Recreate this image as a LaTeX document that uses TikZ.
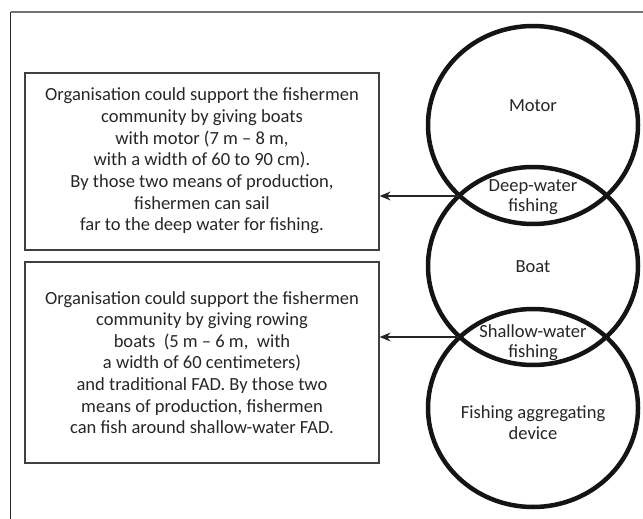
\documentclass[tikz,border=0pt]{standalone}
\usepackage{fontspec}
\setmainfont{Carlito}
\usetikzlibrary{shapes.geometric,arrows.meta}
\begin{document}
\begin{tikzpicture}[x=1bp,y=-1bp,
  textbox/.style={draw=black!75, line width=1.3bp, minimum width=354bp, inner sep=0pt, align=center, text=black!85, font=\fontsize{18.6}{21.7}\selectfont},
  ring/.style={draw=black!92, line width=4.5bp, ellipse, minimum width=210bp, minimum height=198bp, inner sep=0pt},
  lbl/.style={align=center, text=black!85, font=\fontsize{18.6}{20.5}\selectfont, inner sep=0pt},
  conn/.style={draw=black!85, line width=1.2bp, -{Stealth[length=11bp,width=9bp]}},
  frameline/.style={line width=1.2bp}]
\useasboundingbox (0,0) rectangle (643,519);
\draw[frameline, draw=black!55] (10.5,12) -- (643,12);
\draw[frameline, draw=black!85] (10.5,12) -- (10.5,519);

\node[ring] (motor) at (533,125) {};
\node[ring] (boat) at (533,266) {};
\node[ring] (fad) at (533,408) {};

\node[lbl] (lmotor) at (533,106) {Motor};
\node[lbl] (lboat) at (533,267) {Boat};
\node[lbl] (ldeep) at (533,197) {Deep-water\\fishing};
\node[lbl] (lshallow) at (533,342.5) {Shallow-water\\fishing};
\node[lbl] (lfad) at (533,422.5) {Fishing aggregating\\device};

\node[textbox, minimum height=177bp] (box1) at (202,161.5) {\raisebox{3bp}{\begin{tabular}{@{}c@{}}Organisation could support the fishermen\\community by giving boats\\with motor (7 m – 8 m,\\with a width of 60 to 90 cm).\\By those two means of production,\\fishermen can sail\\far to the deep water for fishing.\end{tabular}}};
\node[textbox, minimum height=201bp] (box2) at (202,362.5) {Organisation could support the fishermen\\community by giving rowing\\boats~ (5 m – 6 m,~ with\\a width of 60 centimeters)\\and traditional FAD. By those two\\means of production, fishermen\\can fish around shallow-water FAD.};

\coordinate (x1) at (459,196);
\coordinate (x2) at (459,337);
\draw[conn] (x1) -- (x1 -| box1.east);
\draw[conn] (x2) -- (x2 -| box2.east);
\end{tikzpicture}
\end{document}
